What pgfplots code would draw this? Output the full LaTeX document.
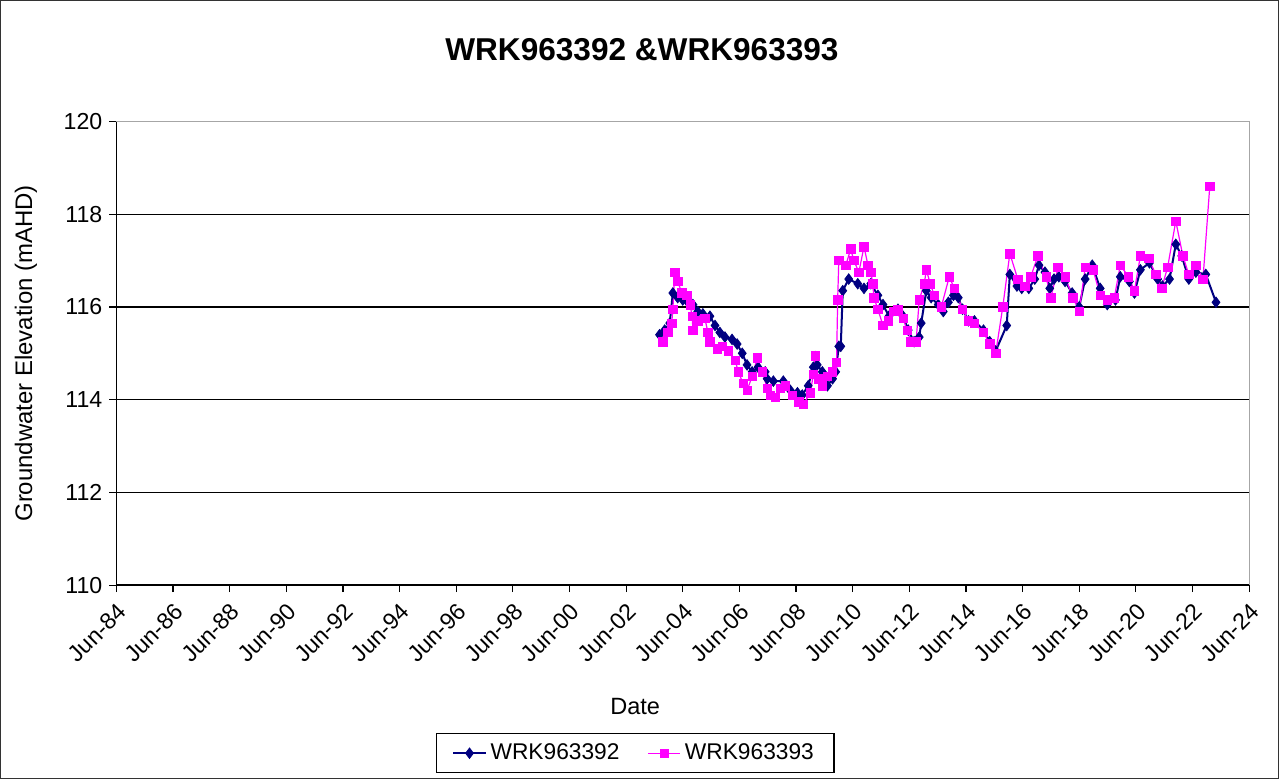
\documentclass[border=0pt]{standalone}
\usepackage{pgfplots}
\pgfplotsset{compat=1.18}
\usepackage{fontspec}
\setmainfont{Liberation Sans}

\definecolor{navy392}{RGB}{0,0,128}
\definecolor{mag393}{RGB}{255,0,255}

\pgfplotstableread{
t v
2003.68 115.40
2003.86 115.50
2004.04 115.65
2004.15 116.30
2004.32 116.20
2004.50 116.15
2004.68 116.10
2004.86 116.05
2005.03 115.90
2005.21 115.85
2005.46 115.80
2005.64 115.60
2005.81 115.45
2005.99 115.35
2006.24 115.30
2006.42 115.20
2006.60 115.00
2006.77 114.75
2006.95 114.60
2007.16 114.70
2007.41 114.60
2007.48 114.45
2007.70 114.40
2008.05 114.40
2008.30 114.20
2008.55 114.15
2008.72 114.10
2008.93 114.30
2009.11 114.70
2009.25 114.75
2009.43 114.60
2009.61 114.30
2009.79 114.45
2009.90 114.60
2010.01 115.15
2010.08 115.15
2010.15 116.35
2010.36 116.60
2010.68 116.50
2010.90 116.40
2011.14 116.50
2011.39 116.25
2011.57 116.05
2011.78 115.80
2012.10 115.95
2012.28 115.80
2012.46 115.50
2012.67 115.25
2012.85 115.35
2012.92 115.65
2013.10 116.35
2013.27 116.20
2013.52 116.05
2013.70 115.90
2013.88 116.10
2014.06 116.25
2014.23 116.20
2014.38 115.95
2014.59 115.70
2014.80 115.70
2015.12 115.50
2015.34 115.25
2015.55 115.05
2015.94 115.60
2016.05 116.70
2016.30 116.45
2016.47 116.40
2016.72 116.40
2016.93 116.60
2017.08 116.90
2017.29 116.75
2017.46 116.40
2017.61 116.60
2017.78 116.65
2018.00 116.55
2018.25 116.30
2018.50 116.00
2018.71 116.60
2018.96 116.90
2019.24 116.40
2019.49 116.05
2019.78 116.15
2019.95 116.65
2020.27 116.55
2020.45 116.30
2020.66 116.80
2020.98 116.95
2021.27 116.60
2021.44 116.45
2021.69 116.60
2021.91 117.35
2022.12 117.10
2022.37 116.60
2022.62 116.75
2022.97 116.70
2023.33 116.10
}\wrkA

\pgfplotstableread{
t v
2003.79 115.25
2003.97 115.45
2004.11 115.65
2004.15 115.95
2004.22 116.75
2004.32 116.55
2004.47 116.30
2004.65 116.25
2004.76 116.05
2004.83 115.80
2004.86 115.50
2005.03 115.70
2005.28 115.75
2005.39 115.45
2005.46 115.25
2005.71 115.10
2005.89 115.15
2006.10 115.05
2006.35 114.85
2006.46 114.60
2006.63 114.35
2006.77 114.20
2006.95 114.50
2007.13 114.90
2007.31 114.60
2007.48 114.25
2007.59 114.10
2007.77 114.05
2007.95 114.25
2008.12 114.30
2008.37 114.10
2008.59 113.95
2008.76 113.90
2009.01 114.15
2009.11 114.55
2009.18 114.95
2009.29 114.45
2009.43 114.30
2009.61 114.50
2009.79 114.60
2009.93 114.80
2009.97 116.15
2010.01 117.00
2010.26 116.90
2010.43 117.25
2010.54 117.00
2010.72 116.75
2010.90 117.30
2011.04 116.90
2011.14 116.75
2011.21 116.50
2011.25 116.20
2011.39 115.95
2011.57 115.60
2011.75 115.70
2011.96 115.90
2012.10 115.95
2012.28 115.75
2012.42 115.50
2012.56 115.25
2012.74 115.25
2012.85 116.15
2013.03 116.50
2013.10 116.80
2013.24 116.50
2013.38 116.25
2013.63 116.00
2013.91 116.65
2014.09 116.40
2014.38 115.95
2014.59 115.70
2014.80 115.65
2015.12 115.45
2015.34 115.20
2015.55 115.00
2015.80 116.00
2016.05 117.15
2016.33 116.60
2016.58 116.45
2016.79 116.65
2017.04 117.10
2017.33 116.65
2017.50 116.20
2017.75 116.85
2018.00 116.65
2018.28 116.20
2018.50 115.90
2018.71 116.85
2018.99 116.80
2019.24 116.25
2019.49 116.15
2019.74 116.20
2019.95 116.90
2020.24 116.65
2020.45 116.35
2020.66 117.10
2020.95 117.05
2021.20 116.70
2021.41 116.40
2021.62 116.85
2021.91 117.85
2022.16 117.10
2022.37 116.70
2022.62 116.90
2022.87 116.60
2023.11 118.60
}\wrkB

\begin{document}
\begin{tikzpicture}
\begin{axis}[
    name=ax,
    width=563pt, height=230.5pt,
    scale only axis,
    xmin=1984.5, xmax=2024.5,
    ymin=110, ymax=120,
    xtick={1984.5,1986.5,...,2024.5},
    xticklabels={Jun-84,Jun-86,Jun-88,Jun-90,Jun-92,Jun-94,Jun-96,Jun-98,Jun-00,Jun-02,Jun-04,Jun-06,Jun-08,Jun-10,Jun-12,Jun-14,Jun-16,Jun-18,Jun-20,Jun-22,Jun-24},
    ytick={110,112,...,120},
    x tick label style={rotate=45, anchor=north east, font=\fontsize{11.5}{13}\selectfont},
    y tick label style={font=\fontsize{11.5}{13}\selectfont},
    /pgf/number format/assume math mode=true,
    axis lines*=left,
    axis line style={black, line width=0.7pt},
    tick align=outside,
    major tick length=3.5pt,
    tick style={black, line width=0.6pt},
    ymajorgrids=true,
    grid style={black, line width=0.6pt},
    title={WRK963392 \&WRK963393},
    title style={font=\bfseries\fontsize{15.7}{18}\selectfont, at={(axis description cs:0.464,1.128)}, anchor=center},
    xlabel={Date},
    xlabel style={font=\fontsize{11.7}{14}\selectfont, at={(axis description cs:0.458,-0.2625)}, anchor=center},
    ylabel={Groundwater Elevation (mAHD)},
    ylabel style={font=\fontsize{11.9}{14}\selectfont, at={(axis description cs:-0.0799,0.5)}, anchor=center},
    legend style={at={(axis description cs:0.458,-0.319)}, anchor=north,
        legend columns=2, draw=black, line width=0.6pt,
        font=\fontsize{11.3}{13}\selectfont,
        /tikz/every even column/.append style={column sep=12pt},
        inner xsep=8pt, inner ysep=3pt},
    legend image code/.code={
        \draw[mark repeat=2,mark phase=2] plot coordinates {(0cm,0cm) (0.28cm,0cm) (0.56cm,0cm)};
    },
    clip=false,
]
\draw[gray!70, line width=0.6pt] (rel axis cs:0,1) -- (rel axis cs:1,1) -- (rel axis cs:1,0);
\addplot[color=navy392, line width=1pt, mark=diamond*, mark size=2.6pt,
    mark options={fill=navy392, draw=navy392, line width=0.4pt}]
    table[x=t, y=v] {\wrkA};
\addlegendentry{WRK963392}
\addplot[color=mag393, line width=0.6pt, mark=square*, mark size=2.1pt,
    mark options={fill=mag393, draw=mag393, line width=0.3pt}]
    table[x=t, y=v] {\wrkB};
\addlegendentry{WRK963393}
\end{axis}
\draw[black!80, line width=0.7pt] ([shift={(-57.5pt,-96pt)}]ax.south west) rectangle ([shift={(14.5pt,60pt)}]ax.north east);
\end{tikzpicture}
\end{document}
